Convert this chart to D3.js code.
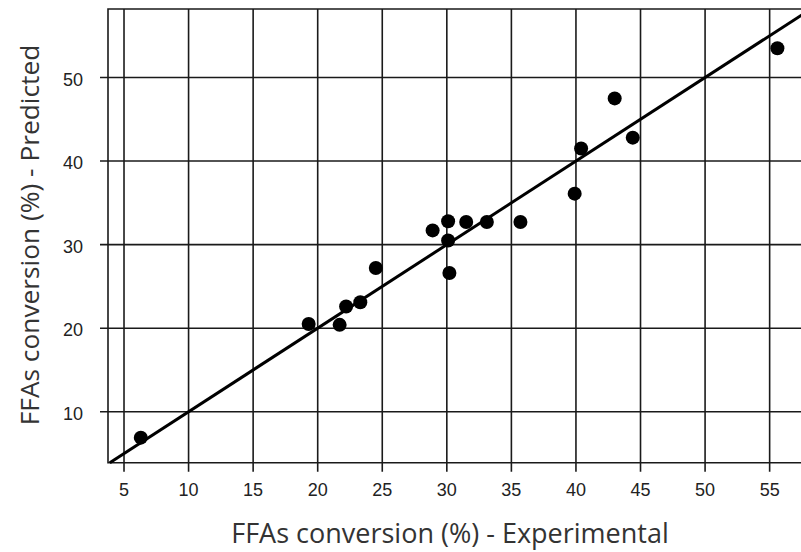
<!DOCTYPE html>
<html>
<head>
<meta charset="utf-8">
<script src="https://cdn.jsdelivr.net/npm/d3@7"></script>
<style>
  html, body { margin: 0; padding: 0; background: #fff; }
  svg { display: block; }
</style>
</head>
<body>
<svg id="chart" width="801" height="552"></svg>
<script>
// Data: experimental vs predicted FFAs conversion (%)
const experimental = [6.3, 19.3, 21.7, 22.2, 23.3, 24.5, 28.9, 30.1, 30.1, 30.2, 31.5, 33.1, 35.7, 39.9, 40.4, 43.0, 44.4, 55.6];
const predicted    = [6.9, 20.5, 20.4, 22.6, 23.1, 27.2, 31.7, 32.8, 30.5, 26.6, 32.7, 32.7, 32.7, 36.1, 41.5, 47.5, 42.8, 53.5];
const xTicks = [5, 10, 15, 20, 25, 30, 35, 40, 45, 50, 55];
const yTicks = [10, 20, 30, 40, 50];
const xDomain = [3.76, 58.9];
const yDomain = [3.9, 58.2];
const xTitle = "FFAs conversion (%) - Experimental";
const yTitle = "FFAs conversion (%) - Predicted";

(function () {
const svg = d3.select("#chart");
const pL = 108, pR = 820, pT = 9, pB = 462.7;
const x = d3.scaleLinear().domain(xDomain).range([pL, pR]);
const y = d3.scaleLinear().domain(yDomain).range([pB, pT]);
const ink = "#1a1a1a";

const g = svg.append("g");
g.selectAll("line.vx").data(xTicks).join("line")
  .attr("class", "vx")
  .attr("x1", d => x(d)).attr("x2", d => x(d))
  .attr("y1", pT).attr("y2", pB + 9)
  .attr("stroke", ink).attr("stroke-width", 1.6);
g.selectAll("line.hy").data(yTicks).join("line")
  .attr("class", "hy")
  .attr("y1", d => y(d)).attr("y2", d => y(d))
  .attr("x1", pL - 8).attr("x2", pR)
  .attr("stroke", ink).attr("stroke-width", 1.6);

g.append("path")
  .attr("d", `M${pR},${pT}H${pL}V${pB}H${pR}`)
  .attr("fill", "none").attr("stroke", ink).attr("stroke-width", 1.6);

g.selectAll("text.xt").data(xTicks).join("text")
  .attr("class", "xt")
  .attr("x", d => x(d)).attr("y", pB + 33)
  .attr("text-anchor", "middle")
  .attr("font-family", "'Liberation Sans', Arial, sans-serif")
  .attr("font-size", 18).attr("fill", "#222")
  .text(d => d);
g.selectAll("text.yt").data(yTicks).join("text")
  .attr("class", "yt")
  .attr("x", pL - 25).attr("y", d => y(d))
  .attr("dy", "0.45em")
  .attr("text-anchor", "end")
  .attr("font-family", "'Liberation Sans', Arial, sans-serif")
  .attr("font-size", 18).attr("fill", "#222")
  .text(d => d);

const lo = Math.max(xDomain[0], yDomain[0]), hi = Math.min(xDomain[1], yDomain[1]);
svg.append("line")
  .attr("x1", x(lo)).attr("y1", y(lo))
  .attr("x2", x(hi)).attr("y2", y(hi))
  .attr("stroke", "#000").attr("stroke-width", 3);

svg.selectAll("circle").data(experimental.map((e, i) => [e, predicted[i]])).join("circle")
  .attr("cx", d => x(d[0])).attr("cy", d => y(d[1]))
  .attr("r", 7).attr("fill", "#000");

svg.append("text")
  .attr("x", 450).attr("y", 543)
  .attr("text-anchor", "middle")
  .attr("font-family", "'Open Sans', sans-serif")
  .attr("font-size", 27).attr("fill", "#333")
  .text(xTitle);
svg.append("text")
  .attr("transform", "translate(39,235) rotate(-90)")
  .attr("text-anchor", "middle")
  .attr("font-family", "'Open Sans', sans-serif")
  .attr("font-size", 26.3).attr("fill", "#333")
  .text(yTitle);
})();
</script>
</body>
</html>
